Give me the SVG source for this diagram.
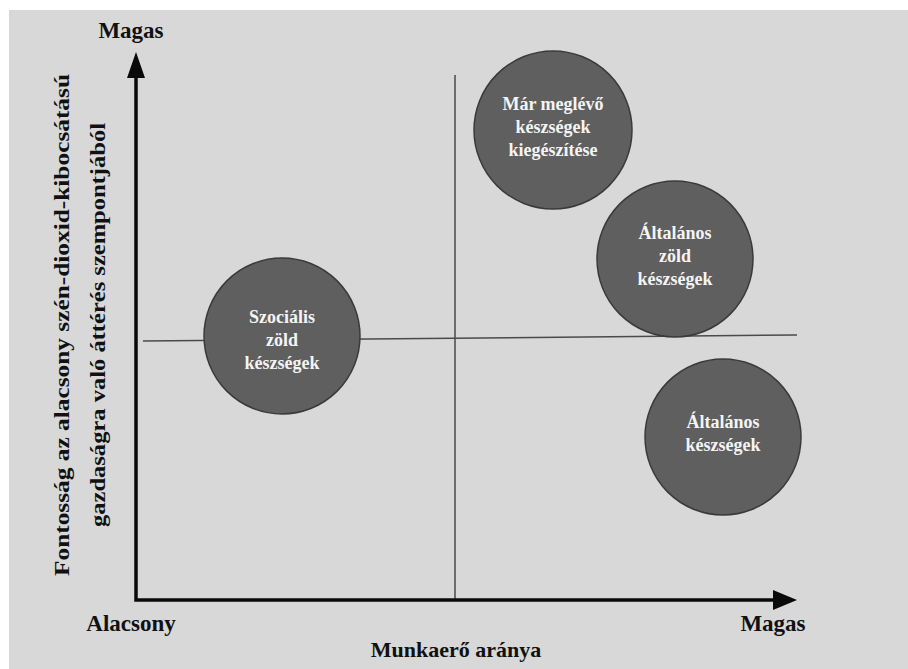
<svg xmlns="http://www.w3.org/2000/svg" width="908" height="669" viewBox="0 0 908 669">
<style>
.lbl{font-family:'Liberation Serif','DejaVu Serif',serif;font-weight:bold;fill:#111;}
.node circle{fill:#5f5f5f;stroke:#3a3a3a;stroke-width:1.5;}
.node text{font-family:'Liberation Serif','DejaVu Serif',serif;font-weight:bold;font-size:18px;fill:#f4f4f4;text-anchor:middle;}
.axis{stroke:#0a0a0a;stroke-width:3.5;fill:none;}
.quad{stroke:#4a4a4a;stroke-width:1.5;fill:none;}
</style>
<rect x="0" y="0" width="908" height="669" fill="#ffffff"/>
<rect x="9" y="10" width="899" height="659" fill="#d8d8d8"/>
<g id="connectors">
<line class="quad" x1="455" y1="75" x2="455" y2="600"/>
<line class="quad" x1="143" y1="341" x2="797" y2="335"/>
<polyline class="axis" points="136,76 136,600 775,600"/>
<polygon points="136,52 127,78 145,78" fill="#0a0a0a"/>
<polygon points="797,600 773,590 773,610" fill="#0a0a0a"/>
</g>
<g id="node-szocialis" class="node">
<circle cx="282" cy="336" r="78"/>
<text x="282" y="323">Szociális</text>
<text x="282" y="346">zöld</text>
<text x="282" y="369">készségek</text>
</g>
<g id="node-mar-meglevo" class="node">
<circle cx="553" cy="130" r="79"/>
<text x="553" y="110">Már meglévő</text>
<text x="553" y="133">készségek</text>
<text x="553" y="156">kiegészítése</text>
</g>
<g id="node-altalanos-zold" class="node">
<circle cx="675" cy="259" r="78"/>
<text x="675" y="239">Általános</text>
<text x="675" y="262">zöld</text>
<text x="675" y="285">készségek</text>
</g>
<g id="node-altalanos" class="node">
<circle cx="723" cy="437" r="78"/>
<text x="723" y="428">Általános</text>
<text x="723" y="451">készségek</text>
</g>
<g id="labels">
<text class="lbl" x="131" y="38" font-size="23" text-anchor="middle">Magas</text>
<text class="lbl" x="131" y="631" font-size="23" text-anchor="middle">Alacsony</text>
<text class="lbl" x="773" y="631" font-size="23" text-anchor="middle">Magas</text>
<text class="lbl" x="456" y="657" font-size="22" text-anchor="middle">Munkaerő aránya</text>
<text class="lbl" font-size="21" text-anchor="middle" transform="translate(69,325) rotate(-90)" textLength="502" lengthAdjust="spacingAndGlyphs">Fontosság az alacsony szén-dioxid-kibocsátású</text>
<text class="lbl" font-size="21" text-anchor="middle" transform="translate(105,325) rotate(-90)" textLength="404" lengthAdjust="spacingAndGlyphs">gazdaságra való áttérés szempontjából</text>
</g>
</svg>
